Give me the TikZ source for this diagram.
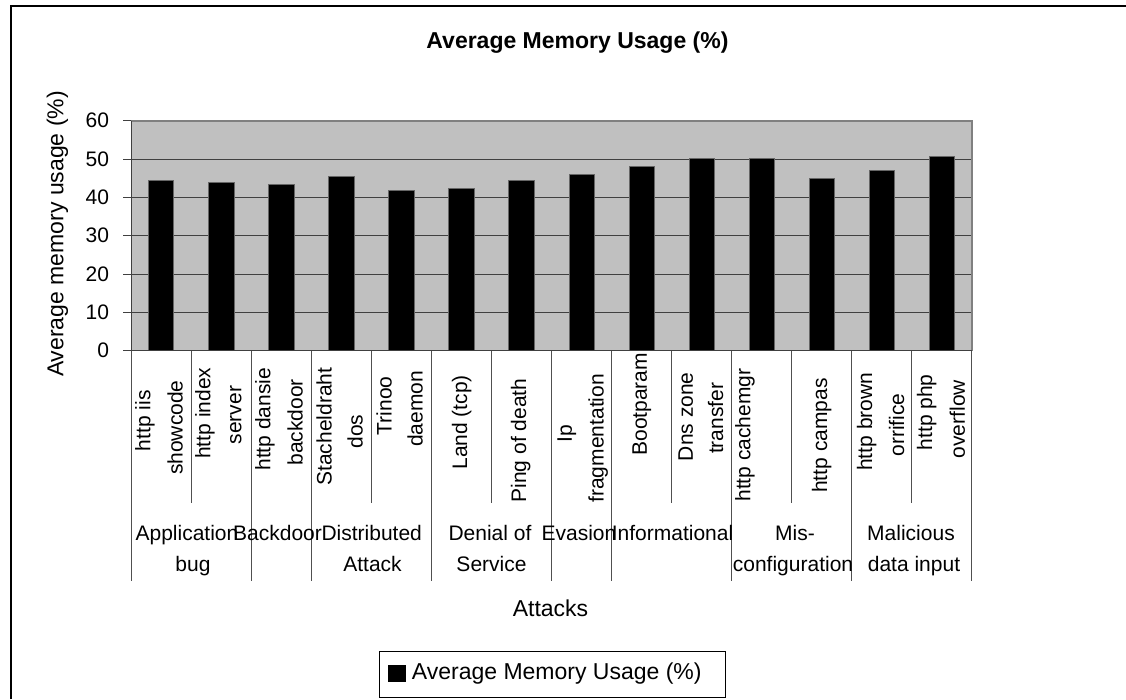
\documentclass[tikz,border=0pt]{standalone}
\usepackage{fontspec}
\setmainfont{Liberation Sans}
\newcommand\chartsmall{\fontsize{21}{25}\selectfont}
\newcommand\chartbig{\fontsize{23}{27}\selectfont}
\definecolor{plotgray}{HTML}{C0C0C0}
\definecolor{gridc}{HTML}{404040}
\definecolor{bordc}{HTML}{808080}
\definecolor{sepc}{HTML}{505050}
\begin{document}
\begin{tikzpicture}[x=1pt,y=-1pt,
  ticklab/.style={font=\chartsmall, inner sep=0, anchor=east},
  catlab/.style={font=\chartsmall, inner sep=0, rotate=90, anchor=center},
  grplab/.style={font=\chartsmall, inner sep=0, anchor=base},
  bigtext/.style={font=\chartbig, inner sep=0},
  gridline/.style={draw=gridc, line width=1},
  sepline/.style={draw=sepc, line width=1},
  barstyle/.style={fill=black, draw=black!60, line width=0.6}
]
\useasboundingbox (0,0) rectangle (1126,699);
% outer frame (cropped on right and bottom)
\coordinate (fbl) at (11,699);
\coordinate (ftl) at (11,6);
\coordinate (ftr) at (1126,6);
\draw[line width=1.6] (fbl) -- (ftl) -- (ftr);

% title
\node[bigtext, font=\chartbig\bfseries] (title) at (577.5,42.5) {Average Memory Usage (\%)};

% plot area
\coordinate (pbl) at (131,350.7);
\coordinate (ptr) at (972,120.7);
\fill[plotgray] (pbl) rectangle (ptr);
\foreach \v in {10,20,30,40,50} {
  \draw[gridline] (131,{350.7-\v*3.833}) -- (972,{350.7-\v*3.833});
}
\coordinate (ptl) at (131,120.7);
\coordinate (pbr) at (972,350.7);
\draw[draw=bordc, line width=1.6] (ptl) -- (ptr) -- (pbr);

% bars
\foreach \i/\v in {1/44.45,2/43.9,3/43.4,4/45.5,5/41.8,6/42.4,7/44.45,8/46.0,9/48.1,10/50.2,11/50.2,12/45.0,13/47.1,14/50.6} {
  \path[barstyle] ({131+60.07*(\i-0.5)-12.7},350.7) rectangle ({131+60.07*(\i-0.5)+12.7},{350.7-\v*3.833});
}

% axes
\draw[gridline] (ptl) -- (pbl);
\draw[gridline] (123,350.7) -- (pbr);
\foreach \v in {10,20,30,40,50,60} {
  \draw[gridline] (123,{350.7-\v*3.833}) -- (131,{350.7-\v*3.833});
}
\foreach \v in {0,10,20,30,40,50,60} {
  \node[ticklab] (t\v) at (109.3,{350.7-\v*3.833}) {\v};
}
\node[bigtext, rotate=90] (ylab) at (57.5,234) {Average memory usage (\%)};

% category separators
\foreach \k in {0,2,3,5,7,8,10,12,14} {
  \draw[sepline] ({131+60.07*\k},350.7) -- ({131+60.07*\k},580.7);
}
\foreach \k in {1,4,6,9,11,13} {
  \draw[sepline] ({131+60.07*\k},350.7) -- ({131+60.07*\k},503);
}

% attack labels
\node[catlab] (c1a) at (145,420.8) {http iis};
\node[catlab] (c1b) at (175,427.7) {showcode};
\node[catlab] (c2a) at (205,413.3) {http index};
\node[catlab] (c2b) at (235.7,415) {server};
\node[catlab] (c3a) at (265,419.2) {http dansie};
\node[catlab] (c3b) at (295,422.3) {backdoor};
\node[catlab] (c4a) at (324,426.7) {Stacheldraht};
\node[catlab] (c4b) at (355,431.5) {dos};
\node[catlab] (c5a) at (384,405.8) {Trinoo};
\node[catlab] (c5b) at (415,409) {daemon};
\node[catlab] (c6) at (461.7,422.3) {Land (tcp)};
\node[catlab] (c7) at (520.7,440.5) {Ping of death};
\node[catlab] (c8a) at (566.7,434) {Ip};
\node[catlab] (c8b) at (598.3,438.3) {fragmentation};
\node[catlab] (c9) at (641.7,404.2) {Bootparam};
\node[catlab] (c10a) at (685.7,416.7) {Dns zone};
\node[catlab] (c10b) at (715.7,418.3) {transfer};
\node[catlab] (c11) at (745,435) {http cachemgr};
\node[catlab] (c12) at (821.7,435.5) {http campas};
\node[catlab] (c13a) at (866.7,421.7) {http brown};
\node[catlab] (c13b) at (896.7,425) {orrifice};
\node[catlab] (c14a) at (926.7,412.3) {http php};
\node[catlab] (c14b) at (957.3,419.2) {overflow};

% group labels
\node[grplab] (g1a) at (187,540) {Application};
\node[grplab] (g1b) at (193,571) {bug};
\node[grplab] (g2) at (277.5,540) {Backdoor};
\node[grplab] (g3a) at (371.7,540) {Distributed};
\node[grplab] (g3b) at (372.5,571) {Attack};
\node[grplab] (g4a) at (490,540) {Denial of};
\node[grplab] (g4b) at (491.5,571) {Service};
\node[grplab] (g5) at (579,540) {Evasion};
\node[grplab] (g6) at (672.5,540) {Informational};
\node[grplab] (g7a) at (795,540) {Mis-};
\node[grplab] (g7b) at (793,571) {configuration};
\node[grplab] (g8a) at (911,540) {Malicious};
\node[grplab] (g8b) at (914,571) {data input};

\node[bigtext] (xlab) at (550.5,608) {Attacks};

% legend
\coordinate (lbl) at (379.3,697.3);
\coordinate (ltr) at (725.7,651.7);
\draw[line width=1] (lbl) rectangle (ltr);
\coordinate (sq1) at (388.3,665);
\coordinate (sq2) at (406,681.7);
\fill[black] (sq1) rectangle (sq2);
\node[bigtext, anchor=west] (legtext) at (411.7,673.3) {Average Memory Usage (\%)};
\end{tikzpicture}
\end{document}
